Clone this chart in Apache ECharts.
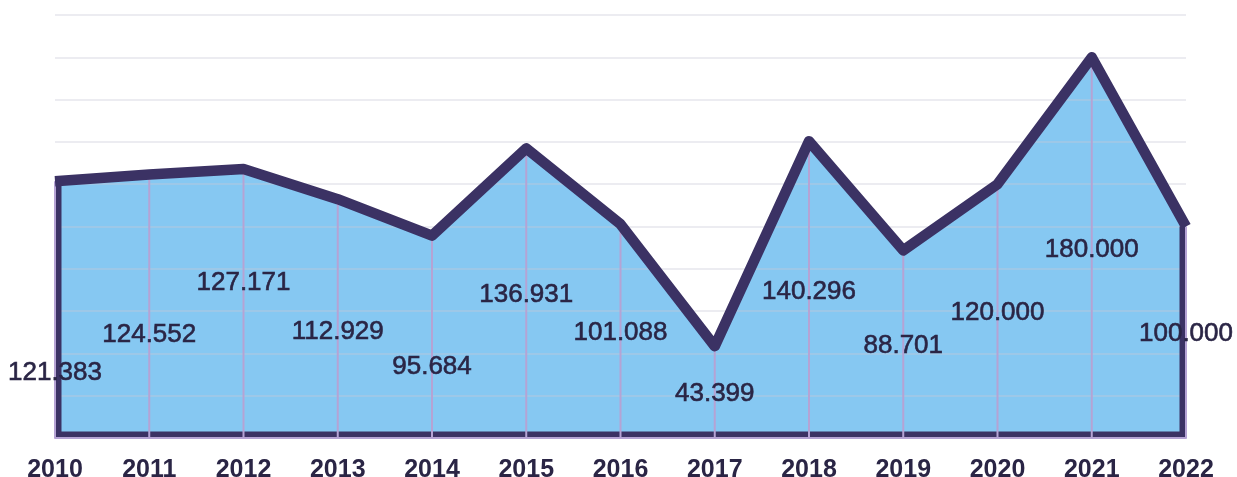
<!DOCTYPE html>
<html>
<head>
<meta charset="utf-8">
<script src="https://cdn.jsdelivr.net/npm/echarts@6/dist/echarts.min.js"></script>
<style>
  html, body { margin: 0; padding: 0; background: #fff; }
  #chart { width: 1237px; height: 477px; }
</style>
</head>
<body>
<div id="chart"></div>
<script>
// data
var years = ["2010", "2011", "2012", "2013", "2014", "2015", "2016", "2017", "2018", "2019", "2020", "2021", "2022"];
var values = [121.383, 124.552, 127.171, 112.929, 95.684, 136.931, 101.088, 43.399, 140.296, 88.701, 120.000, 180.000, 100.000];

var dark = "#3b3264";
var lilac = "#b5a3d4";
var fill = "#86c8f2";
var textColor = "#2a2545";
// crowded labels on the left are pushed apart vertically (px)
var labelNudge = [61, 27, -23, 11, 28, 0, 0, 0, 0, 0, 0, 0, 0];

var myChart = echarts.init(document.getElementById("chart"));

var option = {
  animation: false,
  grid: { left: 55, right: 51, top: 15, bottom: 39, containLabel: false, outerBoundsMode: "none" },
  xAxis: {
    type: "category",
    boundaryGap: false,
    data: years,
    z: 3,
    axisTick: { show: false },
    axisLine: { lineStyle: { color: lilac, width: 2 } },
    axisLabel: {
      color: textColor,
      fontFamily: "Liberation Sans",
      fontWeight: "bold",
      fontSize: 25,
      margin: 20
    },
    splitLine: { show: false }
  },
  yAxis: {
    type: "value",
    min: 0,
    max: 200,
    interval: 20,
    z: 1.5,
    axisLabel: { show: false },
    axisLine: { show: false },
    axisTick: { show: false },
    splitLine: { lineStyle: { color: "rgba(200,200,215,0.35)", width: 2 } }
  },
  series: [
    {
      // filled area
      type: "line",
      data: values,
      z: 1,
      symbol: "none",
      lineStyle: { width: 0 },
      areaStyle: { color: fill, opacity: 1 }
    },
    {
      // side and bottom border of the area
      type: "custom",
      z: 2,
      data: [0],
      renderItem: function (params, api) {
        var n = values.length - 1;
        var p0 = api.coord([0, values[0]]);
        var b0 = api.coord([0, 0]);
        var pn = api.coord([n, values[n]]);
        var bn = api.coord([n, 0]);
        return {
          type: "polyline",
          shape: {
            points: [
              [p0[0] + 3.5, p0[1]],
              [b0[0] + 3.5, b0[1] - 3.5],
              [bn[0] - 3.5, bn[1] - 3.5],
              [pn[0] - 3.5, pn[1]]
            ]
          },
          style: { stroke: dark, lineWidth: 6, fill: null, lineJoin: "miter" }
        };
      }
    },
    {
      // drop lines from each point
      type: "custom",
      z: 3,
      data: values.map(function (v, i) { return [i, v]; }),
      renderItem: function (params, api) {
        var top = api.coord([api.value(0), api.value(1)]);
        var bot = api.coord([api.value(0), 0]);
        return {
          type: "line",
          shape: { x1: top[0], y1: top[1], x2: bot[0], y2: bot[1] },
          style: { stroke: lilac, lineWidth: 2 }
        };
      }
    },
    {
      // top border line
      type: "line",
      data: values,
      z: 4,
      symbol: "none",
      lineStyle: { color: dark, width: 10.5, join: "round", cap: "butt" }
    },
    {
      // value labels, halfway down each drop line
      type: "custom",
      z: 5,
      data: values.map(function (v, i) { return [i, v]; }),
      renderItem: function (params, api) {
        var i = api.value(0);
        var p = api.coord([i, api.value(1) / 2]);
        return {
          type: "text",
          x: p[0],
          y: p[1] + 2 + labelNudge[i],
          style: {
            text: api.value(1).toFixed(3),
            fill: textColor,
            stroke: textColor,
            lineWidth: 0.6,
            fontFamily: "Liberation Sans",
            fontSize: 26,
            align: "center",
            verticalAlign: "middle"
          }
        };
      }
    }
  ]
};

myChart.setOption(option);
</script>
</body>
</html>
